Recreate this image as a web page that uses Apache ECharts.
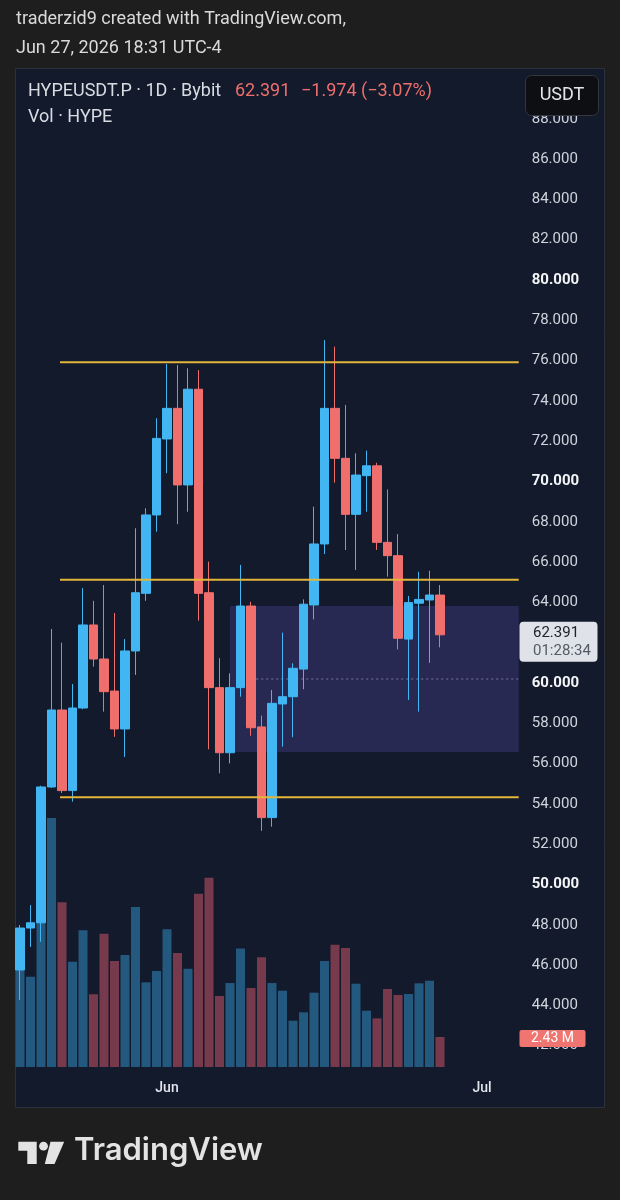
<!DOCTYPE html>
<html><head><meta charset="utf-8">
<script src="https://cdn.jsdelivr.net/npm/echarts@6/dist/echarts.min.js"></script>
<style>html,body{margin:0;padding:0;background:#1e1e1e}#c{width:620px;height:1200px}</style>
</head><body><div id="c"></div>
<script>
// ---- data ----
const dates = ['2026-05-18','2026-05-19','2026-05-20','2026-05-21','2026-05-22','2026-05-23','2026-05-24','2026-05-25','2026-05-26','2026-05-27','2026-05-28','2026-05-29','2026-05-30','2026-05-31',
'2026-06-01','2026-06-02','2026-06-03','2026-06-04','2026-06-05','2026-06-06','2026-06-07','2026-06-08','2026-06-09','2026-06-10','2026-06-11','2026-06-12','2026-06-13','2026-06-14','2026-06-15','2026-06-16','2026-06-17','2026-06-18','2026-06-19','2026-06-20','2026-06-21','2026-06-22','2026-06-23','2026-06-24','2026-06-25','2026-06-26','2026-06-27','2026-06-28','2026-06-29','2026-06-30',
'2026-07-01','2026-07-02','2026-07-03','2026-07-04'];
const opens  = [45.76,47.84,48.10,54.84,58.66,54.66,58.76,62.88,61.19,59.60,57.72,61.59,64.45,68.34,72.11,73.63,69.83,74.58,64.48,59.77,56.54,59.77,63.82,57.82,53.32,58.96,59.32,60.69,63.87,66.90,73.63,71.15,68.37,70.29,70.78,66.98,66.32,62.18,63.96,64.12,64.365];
const highs  = [47.99,48.98,54.90,62.68,62.00,59.95,64.71,64.08,64.86,63.47,62.18,67.68,68.67,73.14,75.83,75.78,75.62,75.53,66.02,61.23,60.48,65.86,64.03,58.38,59.65,62.50,60.98,64.15,68.75,77.02,76.69,73.80,71.40,71.53,70.93,69.61,67.39,64.32,65.52,65.57,64.86];
const lows   = [44.27,46.90,47.16,54.79,54.54,54.11,58.70,60.81,58.58,57.33,56.33,60.40,64.08,67.51,70.41,67.88,68.50,63.09,56.71,55.52,56.01,59.32,57.38,52.66,52.87,56.84,57.31,59.69,63.16,66.40,69.94,66.60,65.61,68.50,66.60,65.28,61.67,59.16,58.58,61.00,61.77];
const closes = [47.84,48.10,54.84,58.66,54.66,58.76,62.88,61.19,59.57,57.72,61.59,64.48,68.34,72.14,73.63,69.83,74.58,64.45,59.77,56.54,59.77,63.82,57.78,53.32,58.99,59.32,60.73,63.91,66.90,73.63,71.15,68.37,70.32,70.78,66.98,66.32,62.22,63.99,64.15,64.365,62.391];
const volumes = [9.5,7.31,16.0,20.17,13.34,8.53,11.07,5.89,10.80,8.59,9.07,12.96,6.86,7.78,11.15,9.23,7.96,14.04,15.33,5.75,6.80,9.60,6.40,8.89,6.80,6.18,3.75,4.43,6.02,8.59,9.91,9.64,6.75,4.56,3.94,6.32,5.83,5.91,6.78,6.99,2.43];
const priceAxis = {min: 40, max: 92, interval: 2, labelMin: 42, labelMax: 88};
const volumeMax = 32.4;
const levels = [[4, 75.92], [4, 65.13], [4, 54.33]];       // [start index, price]
const zone = [[20, 63.82, 56.58, 23]];                       // [start index, top, bottom, midline start index]
const monthNames = {'05':'May','06':'Jun','07':'Jul'};

// ---- colors ----
const UP = '#42b6f2', DOWN = '#f06f6d';
const VUP = '#24597f', VDOWN = '#773a4c';

const candleData = opens.map((o,i)=>[o, closes[i], lows[i], highs[i]]);
const volData = volumes.map((v,i)=>({value:v, itemStyle:{color: closes[i] >= opens[i] ? VUP : VDOWN}}));

const chart = echarts.init(document.getElementById('c'), null, {renderer:'canvas'});
const gridLeft = 14.75, gridWidth = 504;
const pxPerUnit = 20.15, y60 = 683;
const priceTop = y60 - (priceAxis.max - 60) * pxPerUnit;
const priceHeight = (priceAxis.max - priceAxis.min) * pxPerUnit;

const font = 'Roboto, "Noto Sans", sans-serif';

const option = {
  backgroundColor: '#1e1e1e',
  animation: false,
  grid: [
    {left: gridLeft, width: gridWidth, top: priceTop, height: priceHeight},
    {left: gridLeft, width: gridWidth, top: 667, height: 400}
  ],
  xAxis: [
    {type:'category', data: dates, gridIndex:0, boundaryGap:true, show:false},
    {type:'category', data: dates, gridIndex:1, boundaryGap:true,
     axisLine:{show:false}, axisTick:{show:false}, splitLine:{show:false},
     axisLabel:{interval:(i,v)=>v.slice(8)==='01' && v.slice(5,7)!=='05', formatter:v=>monthNames[v.slice(5,7)],
       color:'#e3e6ee', fontSize:14, fontWeight:500, fontFamily:font, margin:14}}
  ],
  yAxis: [
    {type:'value', gridIndex:0, position:'right', min:priceAxis.min, max:priceAxis.max, interval:priceAxis.interval,
     axisLine:{show:false}, axisTick:{show:false}, splitLine:{show:false},
     axisLabel:{margin:13, fontFamily:font,
       formatter:v=> (v>priceAxis.labelMax||v<priceAxis.labelMin) ? '' : (v%10===0 ? '{b|'+v.toFixed(3)+'}' : '{n|'+v.toFixed(3)+'}'),
       rich:{n:{color:'#d1d4dc', fontSize:15, fontFamily:font}, b:{color:'#f4f5f7', fontSize:15, fontWeight:'bold', fontFamily:font}}}},
    {type:'value', gridIndex:1, min:0, max:volumeMax, show:false}
  ],
  series: [
    {type:'bar', xAxisIndex:1, yAxisIndex:1, data: volData, barWidth:9, z:1, silent:true},
    {type:'custom', xAxisIndex:0, yAxisIndex:0, z:1, silent:true, clip:true,
     data: zone,
     renderItem:(params, api)=>{
       const cs = params.coordSys;
       const a = api.coord([api.value(0), api.value(1)]);
       const b = api.coord([api.value(0), api.value(2)]);
       const right = cs.x + cs.width;
       const m = api.coord([api.value(3), (api.value(1)+api.value(2))/2]);
       const half = api.size([1,0])[0]/2;
       return {type:'group', children:[
         {type:'rect', shape:{x:a[0], y:a[1], width:right-a[0], height:b[1]-a[1]}, style:{fill:'rgba(98,86,190,0.27)'}},
         {type:'line', shape:{x1:m[0]-half, y1:m[1], x2:right, y2:m[1]}, style:{stroke:'rgba(160,150,210,0.7)', lineWidth:1, lineDash:[2,3]}}
       ]};
     }},
    {type:'candlestick', xAxisIndex:0, yAxisIndex:0, data: candleData, barWidth:8.8, z:3, silent:true,
     itemStyle:{color:UP, color0:DOWN, borderColor:UP, borderColor0:DOWN, borderWidth:1}},
    {type:'custom', xAxisIndex:0, yAxisIndex:0, z:5, silent:true,
     data: levels,
     renderItem:(params, api)=>{
       const cs = params.coordSys;
       const a = api.coord([api.value(0), api.value(1)]);
       return {type:'line', shape:{x1:a[0]-2, y1:a[1], x2:cs.x+cs.width, y2:a[1]}, style:{stroke:'#e5b53a', lineWidth:2}};
     }}
  ]
};
chart.setOption(option);

const last = closes.length - 1;
const lastClose = closes[last];
const change = lastClose - closes[last-1];
const pct = change / closes[last-1] * 100;
const fmtSigned = x => (x < 0 ? '\u2212' : '+') + Math.abs(x).toFixed(3);
const yPrice = chart.convertToPixel({yAxisIndex:0}, lastClose);
const yVol = chart.convertToPixel({yAxisIndex:1}, volumes[last]);
const lastIsDown = lastClose < opens[last];

chart.setOption({
  graphic: [
    {type:'rect', z:-10, shape:{x:15.5, y:68.5, width:589, height:1039}, style:{fill:'#121a2c', stroke:'#2c313d', lineWidth:1}},
    {type:'text', z:10, left:16, top:10, style:{text:'traderzid9 created with TradingView.com,', fill:'#dadada', font:'18px '+font}},
    {type:'text', z:10, left:16, top:39, style:{text:'Jun 27, 2026 18:31 UTC-4', fill:'#dadada', font:'18px '+font}},
    {type:'text', z:10, left:28, top:82, style:{text:'HYPEUSDT.P \u00b7 1D \u00b7 Bybit', fill:'#d9dce3', font:'18px '+font}},
    {type:'text', z:10, left:235, top:82, style:{text:lastClose.toFixed(3), fill:'#ef6f6c', font:'18px '+font}},
    {type:'text', z:10, left:301, top:82, style:{text:fmtSigned(change)+' ('+(pct<0?'\u2212':'+')+Math.abs(pct).toFixed(2)+'%)', fill:'#ef6f6c', font:'18px '+font}},
    {type:'text', z:10, left:28, top:108, style:{text:'Vol \u00b7 HYPE', fill:'#d9dce3', font:'18px '+font}},
    // USDT box
    {type:'rect', z:50, shape:{x:525.5, y:75.5, width:73, height:40, r:6}, style:{fill:'#0e0f13', stroke:'#33363e', lineWidth:1}},
    {type:'text', z:51, x:562, y:95.5, style:{text:'USDT', fill:'#e6e6e6', font:'18px '+font, align:'center', verticalAlign:'middle'}},
    // last price label
    {type:'rect', z:50, shape:{x:519.5, y:yPrice-13, width:78, height:40, r:4}, style:{fill:'#dfe2e8'}},
    {type:'text', z:51, x:533, y:yPrice-2, style:{text:lastClose.toFixed(3), fill:'#20232b', font:'15px '+font, verticalAlign:'middle'}},
    {type:'text', z:51, x:533, y:yPrice+16, style:{text:'01:28:34', fill:'#555a66', font:'15px '+font, verticalAlign:'middle'}},
    // last volume label
    {type:'rect', z:50, shape:{x:519.5, y:yVol-7, width:66, height:17, r:2}, style:{fill: lastIsDown ? '#f07470' : '#42b6f2'}},
    {type:'text', z:51, x:552.5, y:yVol+1.5, style:{text:volumes[last].toFixed(2)+' M', fill:'#ffffff', font:'14px '+font, align:'center', verticalAlign:'middle'}},
    // TradingView logo
    {type:'polygon', z:10, shape:{points:[[18.3,1141.7],[36.7,1141.7],[36.7,1164],[27.3,1164],[27.3,1150.7],[18.3,1150.7]]}, style:{fill:'#e3e3e3'}},
    {type:'circle', z:10, shape:{cx:43.5, cy:1146.2, r:4.4}, style:{fill:'#e3e3e3'}},
    {type:'polygon', z:10, shape:{points:[[50.5,1141.7],[64.2,1141.7],[54.5,1164],[44.8,1164]]}, style:{fill:'#e3e3e3'}},
    {type:'text', z:10, left:74, top:1135, style:{text:'TradingView', fill:'#e3e3e3', font:'600 31px Inter, '+font}}
  ]
});
</script></body></html>
